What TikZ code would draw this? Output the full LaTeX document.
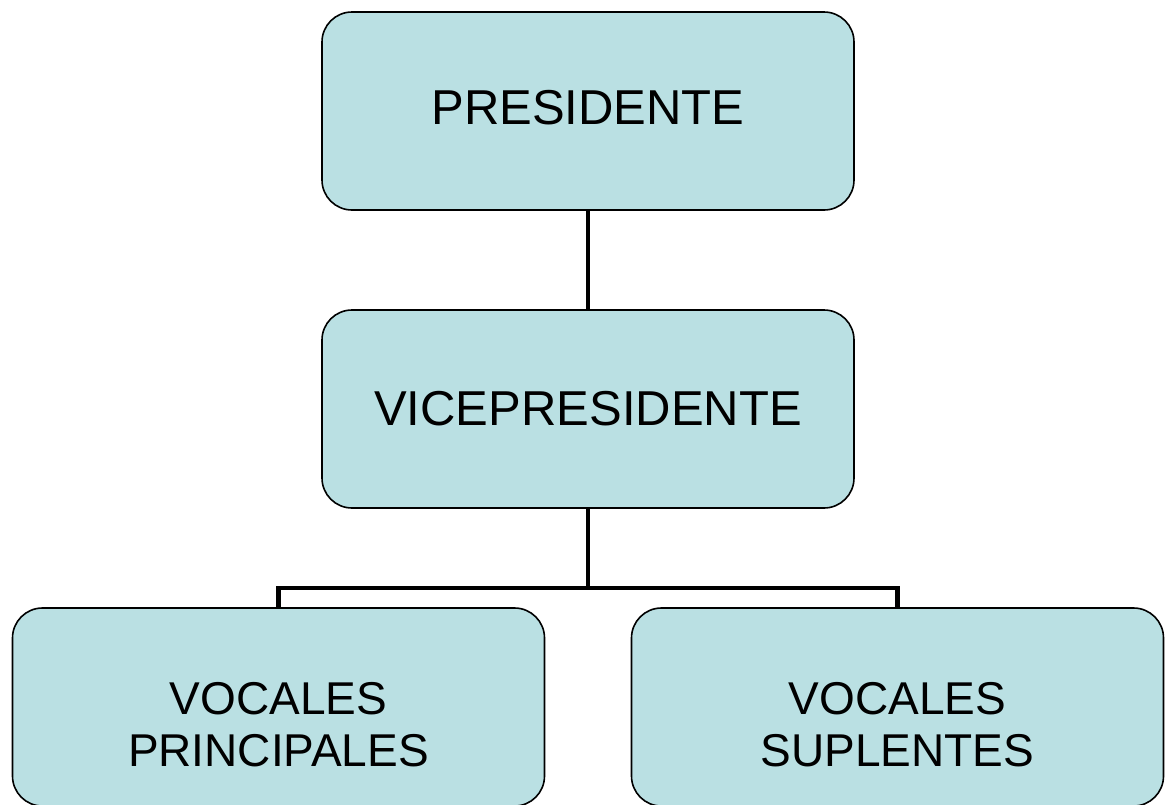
\documentclass[tikz,border=0pt]{standalone}
\usepackage{fontspec}
\setmainfont{Liberation Sans}
\definecolor{boxfill}{HTML}{BAE0E3}
\begin{document}
\begin{tikzpicture}[x=1pt,y=-1pt,
  orgbox/.style={draw=black, line width=1.6pt, fill=boxfill, rounded corners=30pt,
    minimum width=532pt, minimum height=198pt, inner sep=0pt,
    font=\fontsize{49}{52}\selectfont, align=center},
  lowtext/.style={font=\fontsize{46}{52}\selectfont, align=center, inner sep=0pt},
  link/.style={line width=4.5pt, line cap=rect}]
\clip (0,0) rectangle (1165,804);
\fill[white] (0,0) rectangle (1165,804);
\node[orgbox] (pres) at (588,111) {\raisebox{8pt}{PRESIDENTE}};
\node[orgbox] (vice) at (588,409) {\raisebox{2pt}{VICEPRESIDENTE}};
\node[orgbox] (vl) at (278.5,707) {};
\node[orgbox] (vr) at (897.5,707) {};
\node[lowtext] (vlt) at (278.5,725) {VOCALES\\PRINCIPALES};
\node[lowtext] (vrt) at (897.5,725) {VOCALES\\SUPLENTES};
\coordinate (j) at (588,588);
\draw[link] (pres.south) -- (vice.north);
\draw[link] (vice.south) -- (j);
\draw[link, line cap=butt] (vl.north) |- (j) -| (vr.north);
\end{tikzpicture}
\end{document}
